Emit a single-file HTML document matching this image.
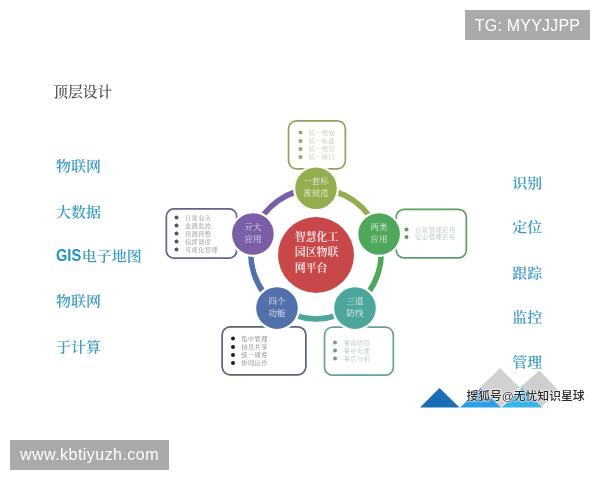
<!DOCTYPE html>
<html lang="zh-CN">
<head>
<meta charset="utf-8">
<title>顶层设计</title>
<style>
  html, body { margin: 0; padding: 0; background: #fff; }
  body { width: 600px; height: 480px; position: relative; overflow: hidden;
         font-family: "Liberation Serif", "Noto Serif CJK SC", serif; }
  .abs { position: absolute; white-space: nowrap; }
  svg.bg { position: absolute; left: 0; top: 0; }
  .title { left: 53.2px; top: 81px; font-size: 14.8px; line-height: 22px; color: #484848; font-weight: 500; }
  .kw { font-size: 15px; line-height: 22px; color: #3e9cc3; font-weight: 600; transform: scaleY(0.92); transform-origin: 50% 55%; }
  .kw b { font-family: "Liberation Sans", sans-serif; font-weight: 700; color: #2390c6; font-size: 17px; line-height: 22px; display: inline-block; vertical-align: baseline; transform: scaleX(0.86); transform-origin: 0 50%; margin-right: -3.6px; }
  /* small text lives in a layer drawn at 2x and scaled down by half */
  .x2 { position: absolute; left: 0; top: 0; width: 1200px; height: 960px; transform: scale(0.5); transform-origin: 0 0; }
  .x2 > * { position: absolute; white-space: nowrap; }
  .node { color: #f6f8f2; font-weight: 300; font-size: 17px; line-height: 24px; text-align: center; width: 100px; height: 48px; }
  .core { color: #fff5f3; font-size: 21.8px; line-height: 31.6px; font-weight: 600; text-align: left; }
  .li { font-size: 12.4px; line-height: 20px; height: 20px; letter-spacing: 0.85px; }
  .b { width: 8px; height: 8px; border-radius: 50%; }
  /* isolate text layers so glyphs are drawn with greyscale anti-aliasing */
  .title, .kw, .x2, .sohu { filter: opacity(1); }
  .wm { will-change: transform; font-family: "Liberation Sans", sans-serif; color: #fff; font-size: 16px; background: #aaa; text-align: center; }
  .sohu { font-family: "Liberation Sans", "Noto Sans CJK SC", sans-serif; font-size: 11.8px; line-height: 16px; color: #2a2a2a; font-weight: 500;
          text-shadow: 0 0 1px #fff, 0 0 1px #fff, 0 0 1px #fff, 0 0 2px #fff, 0 0 2px #fff; }
</style>
</head>
<body>
<svg class="bg" width="600" height="480" viewBox="0 0 600 480">
  <g id="deco">
    <polygon points="500,368 519.8,387.4 500,408 479.5,388" fill="#d2d2d2"/>
    <polygon points="539.5,370.5 558,390 541,407.5 519.8,387.4" fill="#cfcfcf"/>
    <polygon points="420,407.5 439.5,388 459.5,407.5" fill="#1b6db6"/>
    <polygon points="460,407.5 480.5,388 501,407.5" fill="#2aa0e2"/>
    <polygon points="501.5,407.5 522,388 542,407.5" fill="#38b4ea"/>
  </g>
  <g id="ring" fill="none" stroke-width="5.6">
    <path stroke="#94ad4f" d="M316.0,188.6 A65.2,65.2 0 0 1 378.0,233.7"/>
    <path stroke="#4ea75a" d="M378.0,233.7 A65.2,65.2 0 0 1 354.3,306.5"/>
    <path stroke="#4ca69c" d="M354.3,306.5 A65.2,65.2 0 0 1 277.7,306.5"/>
    <path stroke="#5270ab" d="M277.7,306.5 A65.2,65.2 0 0 1 254.0,233.7"/>
    <path stroke="#7a5ea8" d="M254.0,233.7 A65.2,65.2 0 0 1 316.0,188.6"/>
  </g>
  <rect x="288.55" y="120.85" width="56.80" height="48.00" rx="8" fill="#fff" stroke="#93a15b" stroke-width="1.7"/>
  <rect x="166.35" y="208.85" width="70.30" height="49.30" rx="7.5" fill="#fff" stroke="#67628a" stroke-width="1.7"/>
  <rect x="396.15" y="209.35" width="70.20" height="48.60" rx="8" fill="#fff" stroke="#5b9e63" stroke-width="1.7"/>
  <rect x="222.15" y="326.85" width="83.70" height="48.00" rx="8" fill="#fff" stroke="#5b607c" stroke-width="1.7"/>
  <rect x="324.55" y="327.15" width="68.80" height="48.00" rx="8" fill="#fff" stroke="#6aa09a" stroke-width="1.7"/>
  <circle cx="316" cy="255" r="38" fill="#c8484a"/>
  <circle cx="316.0" cy="188.2" r="21.9" fill="#94ad4f" stroke="#fff" stroke-width="2.2"/>
  <circle cx="379.1" cy="234.0" r="21.9" fill="#4ea75a" stroke="#fff" stroke-width="2.2"/>
  <circle cx="355.0" cy="308.1" r="21.9" fill="#4ca69c" stroke="#fff" stroke-width="2.2"/>
  <circle cx="277.0" cy="308.1" r="21.9" fill="#5270ab" stroke="#fff" stroke-width="2.2"/>
  <circle cx="252.9" cy="234.0" r="21.9" fill="#7a5ea8" stroke="#fff" stroke-width="2.2"/>
</svg>

<div class="abs title">顶层设计</div>
<div class="abs kw" style="left:56.1px; top:155.0px;">物联网</div>
<div class="abs kw" style="left:56.1px; top:201.1px;">大数据</div>
<div class="abs kw" style="left:56.1px; top:245.1px;"><b>GIS</b>电子地图</div>
<div class="abs kw" style="left:56.1px; top:290.3px;">物联网</div>
<div class="abs kw" style="left:56.1px; top:335.8px;">于计算</div>
<div class="abs kw" style="left:512.2px; top:172.0px;">识别</div>
<div class="abs kw" style="left:512.2px; top:216.4px;">定位</div>
<div class="abs kw" style="left:512.2px; top:261.8px;">跟踪</div>
<div class="abs kw" style="left:512.2px; top:306.1px;">监控</div>
<div class="abs kw" style="left:512.2px; top:350.8px;">管理</div>

<div class="x2">
<div class="core" style="left:589.6px; top:458.6px;">智慧化工<br>园区物联<br>网平台</div>
<div class="node" style="left:582.0px; top:351.0px;">一套标<br>准规范</div>
<div class="node" style="left:708.1px; top:442.6px;">两类<br>应用</div>
<div class="node" style="left:659.9px; top:590.9px;">三道<br>防线</div>
<div class="node" style="left:504.1px; top:590.9px;">四个<br>功能</div>
<div class="node" style="left:455.9px; top:442.6px;">亓大<br>应用</div>
<span class="b" style="left:597.4px; top:261.0px; background:#9aa56e;"></span><span class="li" style="left:617.0px; top:255.0px; color:#c0c5ae; letter-spacing:0.85px;">统一规划</span>
<span class="b" style="left:597.4px; top:277.6px; background:#9aa56e;"></span><span class="li" style="left:617.0px; top:271.6px; color:#c0c5ae; letter-spacing:0.85px;">统一标准</span>
<span class="b" style="left:597.4px; top:294.0px; background:#9aa56e;"></span><span class="li" style="left:617.0px; top:288.0px; color:#c0c5ae; letter-spacing:0.85px;">统一规范</span>
<span class="b" style="left:597.4px; top:310.4px; background:#9aa56e;"></span><span class="li" style="left:617.0px; top:304.4px; color:#c0c5ae; letter-spacing:0.85px;">统一接口</span>
<span class="b" style="left:349.4px; top:430.6px; background:#58546c;"></span><span class="li" style="left:370.0px; top:424.6px; color:#96959c; letter-spacing:0.85px;">日常业务</span>
<span class="b" style="left:349.4px; top:447.0px; background:#58546c;"></span><span class="li" style="left:370.0px; top:441.0px; color:#96959c; letter-spacing:0.85px;">监测监控</span>
<span class="b" style="left:349.4px; top:463.0px; background:#58546c;"></span><span class="li" style="left:370.0px; top:457.0px; color:#96959c; letter-spacing:0.85px;">预测预警</span>
<span class="b" style="left:349.4px; top:479.2px; background:#58546c;"></span><span class="li" style="left:370.0px; top:473.2px; color:#96959c; letter-spacing:0.85px;">指挥调度</span>
<span class="b" style="left:349.4px; top:495.4px; background:#58546c;"></span><span class="li" style="left:370.0px; top:489.4px; color:#96959c; letter-spacing:0.85px;">可视化管理</span>
<span class="b" style="left:809.4px; top:455.4px; background:#5f9a63;"></span><span class="li" style="left:830.0px; top:449.4px; color:#adc6b1; letter-spacing:1.25px;">日常管理应用</span>
<span class="b" style="left:809.4px; top:470.0px; background:#5f9a63;"></span><span class="li" style="left:830.0px; top:464.0px; color:#adc6b1; letter-spacing:1.25px;">安全管理应用</span>
<span class="b" style="left:461.6px; top:673.0px; background:#181d48;"></span><span class="li" style="left:482.6px; top:667.0px; color:#808088; letter-spacing:0.85px;">集中管理</span>
<span class="b" style="left:461.6px; top:689.6px; background:#181d48;"></span><span class="li" style="left:482.6px; top:683.6px; color:#808088; letter-spacing:0.85px;">信息共享</span>
<span class="b" style="left:461.6px; top:705.6px; background:#181d48;"></span><span class="li" style="left:482.6px; top:699.6px; color:#808088; letter-spacing:0.85px;">统一调度</span>
<span class="b" style="left:461.6px; top:722.0px; background:#181d48;"></span><span class="li" style="left:482.6px; top:716.0px; color:#808088; letter-spacing:0.85px;">协同运作</span>
<span class="b" style="left:666.0px; top:681.4px; background:#6a9d94;"></span><span class="li" style="left:687.6px; top:675.4px; color:#acc8c4; letter-spacing:0.85px;">事前防范</span>
<span class="b" style="left:666.0px; top:697.2px; background:#6a9d94;"></span><span class="li" style="left:687.6px; top:691.2px; color:#acc8c4; letter-spacing:0.85px;">事中处理</span>
<span class="b" style="left:666.0px; top:713.0px; background:#6a9d94;"></span><span class="li" style="left:687.6px; top:707.0px; color:#acc8c4; letter-spacing:0.85px;">事后分析</span>
</div>

<div class="abs sohu" style="left:466.4px; top:387.5px;">搜狐号@无忧知识星球</div>

<div class="abs wm" style="left:465px; top:10px; width:125px; height:30px; line-height:31px; letter-spacing:0.2px;">TG: MYYJJPP</div>
<div class="abs wm" style="left:10px; top:440px; width:159px; height:30px; line-height:30px; letter-spacing:0.46px;">www.kbtiyuzh.com</div>
</body>
</html>
